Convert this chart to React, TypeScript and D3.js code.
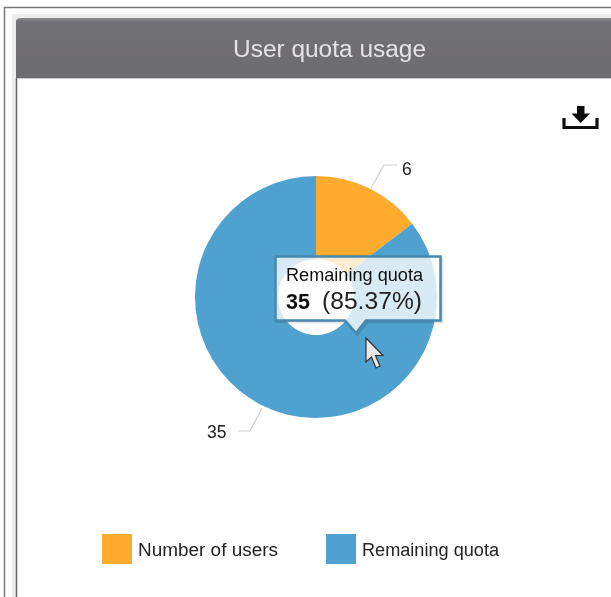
import React from "react";
import * as d3 from "d3";

const categories = ["Number of users", "Remaining quota"];
const values = [6, 35];
const colors = ["#FFAB2E", "#50A2CF"];
const title = "User quota usage";
const tooltipName = "Remaining quota";
const tooltipValue = "35";
const tooltipPct = "(85.37%)";

const font = "'Liberation Sans', Arial, sans-serif";

export default function App() {
  const cx = 316, cy = 297, R = 121, r = 38;
  const pie = d3.pie<number>().sort(null)(values);
  const arc = d3.arc<d3.PieArcDatum<number>>().innerRadius(r).outerRadius(R);
  const leaderPts = [
    [[371, 188], [384, 165], [397, 165]],
    [[262, 408], [250, 431], [238, 431]],
  ];
  const labelPos = [[402, 175], [207, 438]];
  const line = d3.line();
  const legendX = [102, 326];
  const legendLen = [140, 137];
  const tip = "M275.5 256.5H440.5V320.5H366L356 333L345 320.5H275.5Z";
  return (
    <svg width={611} height={597} style={{ position: "absolute", left: 0, top: 0, background: "#fff", display: "block" }}>
      <defs>
        <linearGradient id="hdr" x1="0" y1="0" x2="0" y2="1">
          <stop offset="0" stopColor="#8c8c90" />
          <stop offset="0.07" stopColor="#717075" />
          <stop offset="1" stopColor="#6d6c71" />
        </linearGradient>
        <filter id="soft" x="0" y="0" width="100%" height="100%">
          <feGaussianBlur stdDeviation="0.45" />
        </filter>
      </defs>
      <g filter="url(#soft)">
        <rect width={611} height={597} fill="#fff" />
        <path d="M4.5 597V7.5H611" fill="none" stroke="#77797b" strokeWidth={1.5} />
        <rect x={12} y={14} width={599} height={583} fill="#eceeed" />
        <rect x={17} y={18} width={594} height={579} fill="#fff" />
        <path d="M16 78V22Q16 18 20 18H611V78Z" fill="url(#hdr)" />
        <path d="M16.5 78V597" stroke="#66666a" strokeWidth={1.5} fill="none" />
        <line x1={17} x2={611} y1={78.5} y2={78.5} stroke="#c8c8ca" strokeWidth={1} />
        <text x={233} y={57} fontFamily={font} fontSize={23.5} textLength={193} lengthAdjust="spacingAndGlyphs" fill="#e4e4e6">{title}</text>

        {/* download icon */}
        <path d="M564 118V127.5H597V118" fill="none" stroke="#111" strokeWidth={3.2} />
        <path d="M577 106H584.5V113.5H590L580.7 123L571.5 113.5H577Z" fill="#111" />

        <g transform={`translate(${cx},${cy})`}>
          {pie.map((d, i) => (
            <path key={i} d={arc(d) ?? ""} fill={colors[i]} />
          ))}
        </g>
        {leaderPts.map((p, i) => (
          <path key={i} d={line(p as [number, number][]) ?? ""} fill="none" stroke="#cfcfcf" strokeWidth={1.2} />
        ))}
        {values.map((v, i) => (
          <text key={i} x={labelPos[i][0]} y={labelPos[i][1]} fontFamily={font} fontSize={17.5} fill="#222">{v}</text>
        ))}

        {/* tooltip */}
        <path d={tip} transform="translate(1.5,1.5)" fill="none" stroke="#000" strokeOpacity={0.12} strokeWidth={2.5} />
        <path d={tip} fill="#ffffff" fillOpacity={0.78} stroke="#4489b0" strokeWidth={2.5} />
        <text x={286} y={281} fontFamily={font} fontSize={17.5} textLength={137} lengthAdjust="spacingAndGlyphs" fill="#111">{tooltipName}</text>
        <text x={286} y={309} fontFamily={font} fontSize={21.5} fontWeight="bold" fill="#111">{tooltipValue}</text>
        <text x={322} y={309} fontFamily={font} fontSize={23} textLength={100} lengthAdjust="spacingAndGlyphs" fill="#222">{tooltipPct}</text>

        {/* cursor */}
        <path d="M366 338V362L371.5 357L376 368L380 366L375.5 355.5H383Z" fill="#e8e8e8" stroke="#333" strokeWidth={1.2} />

        {categories.map((c, i) => (
          <g key={c}>
            <rect x={legendX[i]} y={534} width={30} height={30} fill={colors[i]} />
            <text x={legendX[i] + 36} y={556} fontFamily={font} fontSize={18} textLength={legendLen[i]} lengthAdjust="spacingAndGlyphs" fill="#222">{c}</text>
          </g>
        ))}
      </g>
    </svg>
  );
}
